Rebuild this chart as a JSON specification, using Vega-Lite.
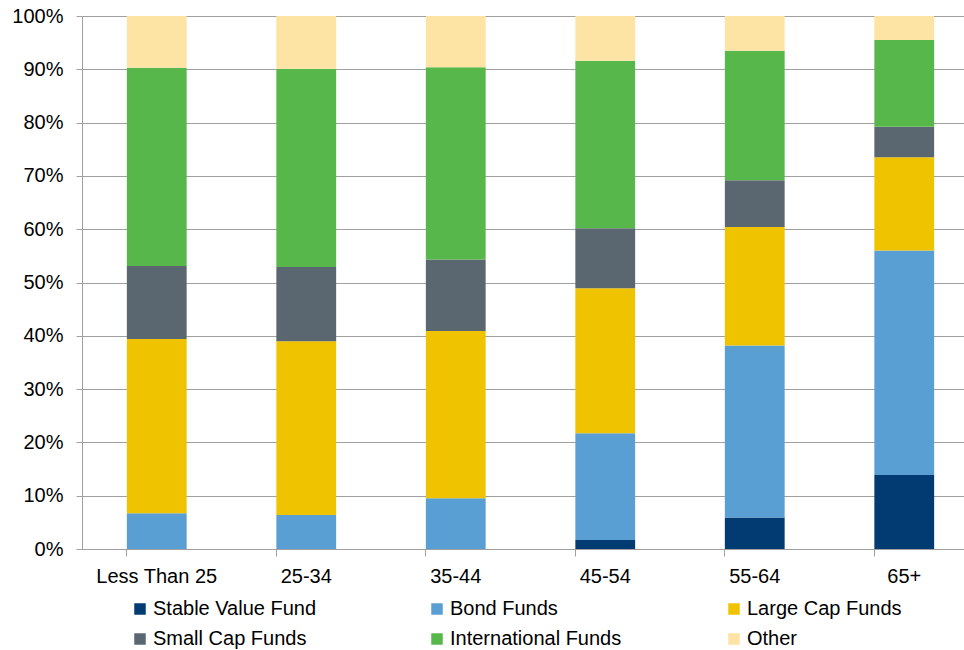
{
  "$schema": "https://vega.github.io/schema/vega-lite/v6.json",
  "autosize": {"type": "none"},
  "padding": {"left": 82, "top": 16, "right": 0, "bottom": 101},
  "width": 882,
  "height": 533,
  "background": "white",
  "config": {
    "view": {"stroke": null},
    "font": "Liberation Sans",
    "axis": {
      "labelFont": "Liberation Sans",
      "labelFontSize": 20,
      "labelColor": "#000000",
      "domainColor": "#A0A0A0",
      "tickColor": "#A0A0A0",
      "gridColor": "#A0A0A0",
      "title": null
    }
  },
  "data": {
    "values": [
      {"age": "Less Than 25", "fund": "Bond Funds", "k": 2, "pct": 6.7},
      {"age": "Less Than 25", "fund": "Large Cap Funds", "k": 3, "pct": 32.7},
      {"age": "Less Than 25", "fund": "Small Cap Funds", "k": 4, "pct": 13.7},
      {"age": "Less Than 25", "fund": "International Funds", "k": 5, "pct": 37.2},
      {"age": "Less Than 25", "fund": "Other", "k": 6, "pct": 9.7},
      {"age": "25-34", "fund": "Bond Funds", "k": 2, "pct": 6.4},
      {"age": "25-34", "fund": "Large Cap Funds", "k": 3, "pct": 32.6},
      {"age": "25-34", "fund": "Small Cap Funds", "k": 4, "pct": 13.9},
      {"age": "25-34", "fund": "International Funds", "k": 5, "pct": 37.2},
      {"age": "25-34", "fund": "Other", "k": 6, "pct": 9.9},
      {"age": "35-44", "fund": "Bond Funds", "k": 2, "pct": 9.5},
      {"age": "35-44", "fund": "Large Cap Funds", "k": 3, "pct": 31.4},
      {"age": "35-44", "fund": "Small Cap Funds", "k": 4, "pct": 13.4},
      {"age": "35-44", "fund": "International Funds", "k": 5, "pct": 36.1},
      {"age": "35-44", "fund": "Other", "k": 6, "pct": 9.6},
      {"age": "45-54", "fund": "Stable Value Fund", "k": 1, "pct": 1.7},
      {"age": "45-54", "fund": "Bond Funds", "k": 2, "pct": 20.0},
      {"age": "45-54", "fund": "Large Cap Funds", "k": 3, "pct": 27.2},
      {"age": "45-54", "fund": "Small Cap Funds", "k": 4, "pct": 11.3},
      {"age": "45-54", "fund": "International Funds", "k": 5, "pct": 31.4},
      {"age": "45-54", "fund": "Other", "k": 6, "pct": 8.4},
      {"age": "55-64", "fund": "Stable Value Fund", "k": 1, "pct": 5.9},
      {"age": "55-64", "fund": "Bond Funds", "k": 2, "pct": 32.3},
      {"age": "55-64", "fund": "Large Cap Funds", "k": 3, "pct": 22.2},
      {"age": "55-64", "fund": "Small Cap Funds", "k": 4, "pct": 8.8},
      {"age": "55-64", "fund": "International Funds", "k": 5, "pct": 24.3},
      {"age": "55-64", "fund": "Other", "k": 6, "pct": 6.5},
      {"age": "65+", "fund": "Stable Value Fund", "k": 1, "pct": 13.9},
      {"age": "65+", "fund": "Bond Funds", "k": 2, "pct": 42.1},
      {"age": "65+", "fund": "Large Cap Funds", "k": 3, "pct": 17.5},
      {"age": "65+", "fund": "Small Cap Funds", "k": 4, "pct": 5.7},
      {"age": "65+", "fund": "International Funds", "k": 5, "pct": 16.3},
      {"age": "65+", "fund": "Other", "k": 6, "pct": 4.5}
    ]
  },
  "mark": {"type": "bar"},
  "encoding": {
    "x": {
      "field": "age",
      "type": "nominal",
      "sort": ["Less Than 25", "25-34", "35-44", "45-54", "55-64", "65+"],
      "scale": {"range": [0, 897], "paddingInner": 0.6, "paddingOuter": 0.3},
      "axis": {
        "labelAngle": 0,
        "bandPosition": 0,
        "tickSize": 7,
        "labelPadding": 10,
        "grid": false
      }
    },
    "y": {
      "field": "pct",
      "type": "quantitative",
      "stack": "zero",
      "scale": {"domain": [0, 100], "nice": false},
      "axis": {
        "values": [0, 10, 20, 30, 40, 50, 60, 70, 80, 90, 100],
        "labelExpr": "datum.value + '%'",
        "tickSize": 6,
        "labelPadding": 13,
        "grid": true
      }
    },
    "color": {
      "field": "fund",
      "type": "nominal",
      "scale": {
        "domain": ["Stable Value Fund", "Bond Funds", "Large Cap Funds", "Small Cap Funds", "International Funds", "Other"],
        "range": ["#023B71", "#5A9FD4", "#EFC300", "#5B6770", "#58B74B", "#FDE3A4"]
      },
      "legend": {
        "title": null,
        "orient": "none",
        "legendX": 48,
        "legendY": 583,
        "direction": "horizontal",
        "columns": 3,
        "gridAlign": "all",
        "columnPadding": 102,
        "rowPadding": 10,
        "symbolType": "square",
        "symbolSize": 132,
        "symbolStrokeWidth": 0,
        "labelOffset": 3,
        "labelLimit": 400,
        "labelFont": "Liberation Sans",
        "labelFontSize": 20,
        "labelColor": "#000000",
        "padding": 0
      }
    },
    "order": {"field": "k", "type": "quantitative"}
  }
}
